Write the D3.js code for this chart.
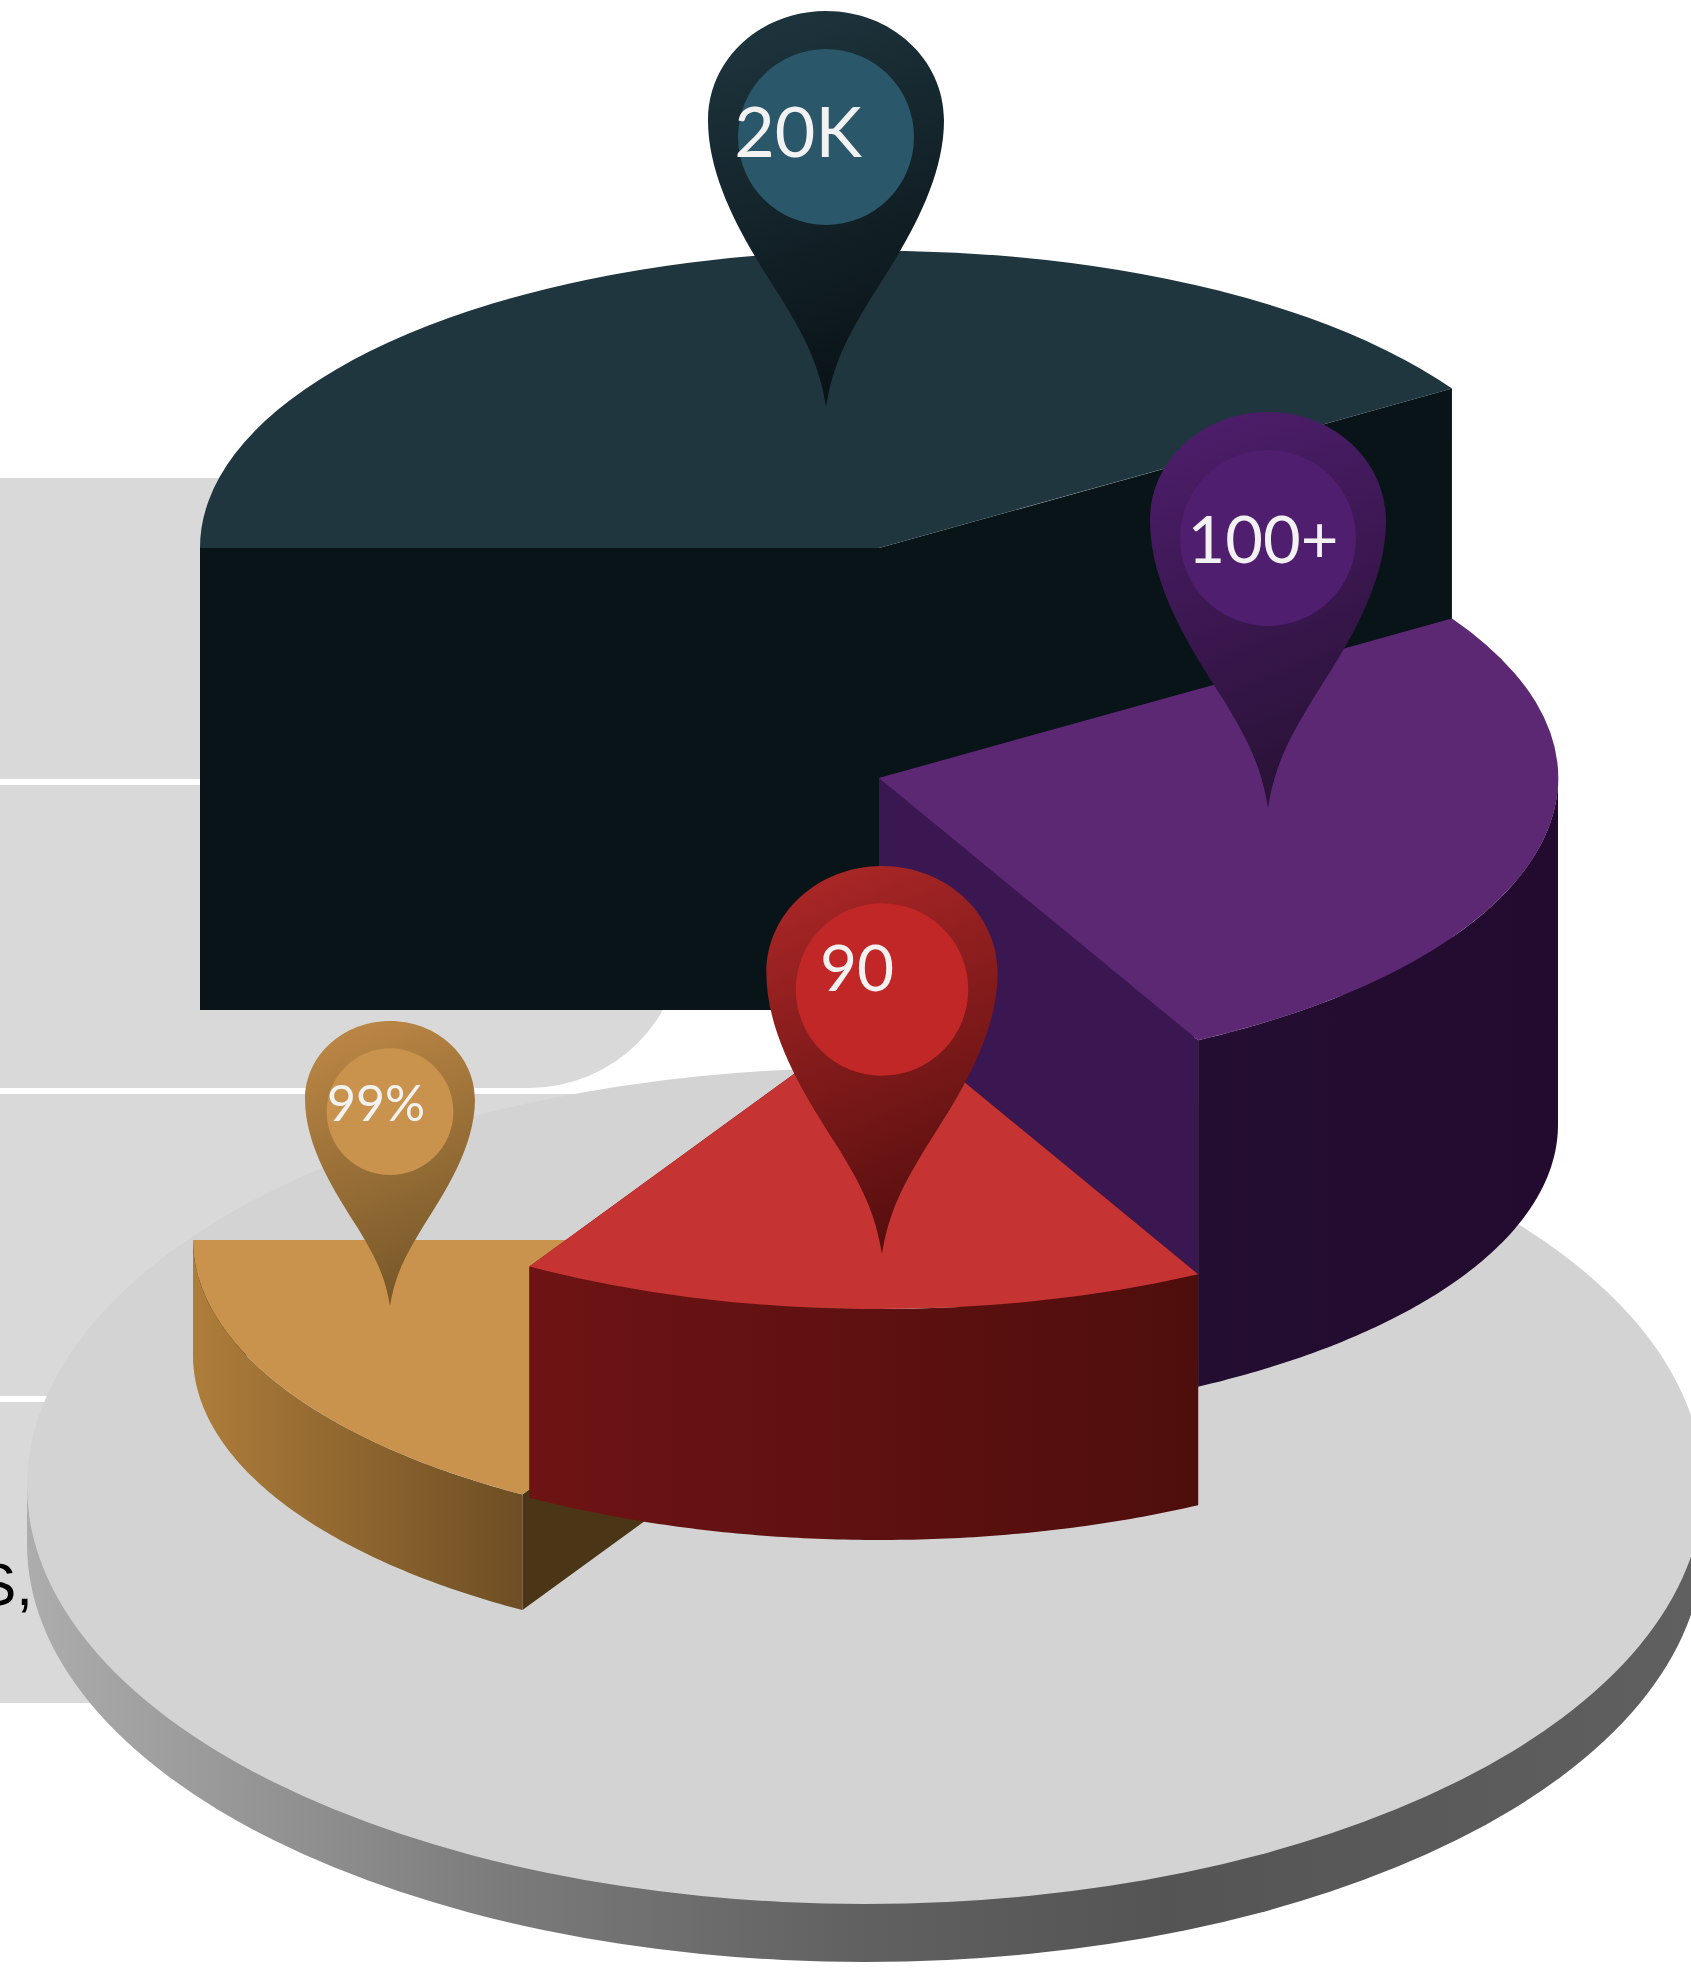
<!DOCTYPE html>
<html>
<head>
<meta charset="utf-8">
<script src="https://cdn.jsdelivr.net/npm/d3@7"></script>
<style>
  html, body { margin: 0; padding: 0; background: #fff; }
  svg { display: block; }
</style>
</head>
<body>
<div id="chart"></div>
<script>
// values
const labels = ["20K", "100+", "90", "99%"];
const shares = [147.5, 94.4, 59, 59];
const levels = [4, 3, 2, 1];

const topColors = ["#1f363f", "#5d2873", "#c53332", "#c9934d"];
const radialColors = [["#091418", "#091418"], ["#3a1750", "#3a1750"], ["#5e1010", "#5e1010"], ["#4b3517", "#4b3517"]];
const outerColors = [["#091418", "#091418"], ["#230d30", "#220b2e"], ["#6e1314", "#4e0e0c"], ["#ae7d3a", "#6e4e24"]];
const pinColors = [["#1f363f", "#0a1418"], ["#4f1e6e", "#2a1238"], ["#b02828", "#5a0f0f"], ["#c08a47", "#7a5a2a"]];
const innerColors = ["#2a5769", "#4f1e6e", "#c12727", "#c9934d"];

const width = 1691, height = 1974;
const rx = 679, ry = 297;
const sliceDx = [0, 0, 0, -7];
const pinLayout = [
  { x: 826, top: 11, s: 1, tx: 798, ty: 157, fs: 70 },
  { x: 1268, top: 412, s: 1, tx: 1263, ty: 563, fs: 65 },
  { x: 882, top: 866, s: 0.98, tx: 857, ty: 991, fs: 64 },
  { x: 390, top: 1021, s: 0.72, tx: 376, ty: 1121, fs: 50 }
];

const svg = d3.select("#chart").append("svg")
  .attr("width", width)
  .attr("height", height)
  .attr("viewBox", `0 0 ${width} ${height}`);
const defs = svg.append("defs");

function addGradient(id, stops, x2, y2) {
  const g = defs.append("linearGradient").attr("id", id)
    .attr("x1", 0).attr("y1", 0).attr("x2", x2).attr("y2", y2);
  stops.forEach((c, i) => {
    g.append("stop").attr("offset", c[1] ?? i / (stops.length - 1)).attr("stop-color", c[0]);
  });
}

// grey panel behind the chart
const panel = svg.append("g").attr("fill", "#d9d9d9");
panel.append("rect").attr("x", 0).attr("y", 478).attr("width", 700).attr("height", 301);
panel.append("path").attr("d", "M0,785H683V934A154,154 0 0 1 529,1088H0Z");
panel.append("rect").attr("x", 0).attr("y", 1094).attr("width", 700).attr("height", 302);
panel.append("rect").attr("x", 0).attr("y", 1402).attr("width", 700).attr("height", 301);
svg.append("text")
  .attr("x", 33).attr("y", 1605)
  .attr("text-anchor", "end")
  .attr("font-family", "Liberation Sans")
  .attr("font-size", 60)
  .attr("fill", "#000")
  .text("S,");

// base disc
const discX = 865, discY = 1486, discRx = 838, discRy = 418, discDepth = 58;
addGradient("discSide", [["#adadad", 0], ["#7a7a7a", 0.29], ["#606060", 0.5], ["#545454", 0.68], ["#606060", 1]], 1, 0);
svg.append("ellipse").attr("cx", discX).attr("cy", discY + discDepth).attr("rx", discRx).attr("ry", discRy).attr("fill", "url(#discSide)");
svg.append("rect").attr("x", discX - discRx).attr("y", discY).attr("width", discRx * 2).attr("height", discDepth).attr("fill", "url(#discSide)");
svg.append("ellipse").attr("cx", discX).attr("cy", discY).attr("rx", discRx).attr("ry", discRy).attr("fill", "#d3d3d3");

// pie slices, stepped down from back to front
const pie = d3.pie().sort(null).startAngle(-Math.PI / 2).endAngle(Math.PI * 1.5);
const arcs = pie(shares);
const topY = d3.scaleLinear().domain([4, 3, 2, 1]).range([548, 778, 1012, 1240]);
const wallH = d3.scaleLinear().domain([0, 4]).range([0, 462]);
const arc = d3.arc().innerRadius(0).outerRadius(1);
const line = d3.line();

function rim(cx, cy, a) {
  return [cx + rx * Math.sin(a), cy - ry * Math.cos(a)];
}

function drawSlice(i) {
  const d = arcs[i];
  const cx = 879 + sliceDx[i];
  const cy = topY(levels[i]);
  const h = wallH(levels[i]);
  const g = svg.append("g").attr("class", "slice");

  [d.startAngle, d.endAngle].forEach((a, k) => {
    const p = rim(cx, cy, a);
    g.append("path")
      .attr("d", line([[cx, cy], p, [p[0], p[1] + h], [cx, cy + h]]) + "Z")
      .attr("fill", radialColors[i][k]);
  });

  const a0 = Math.max(d.startAngle, Math.PI / 2);
  const a1 = Math.min(d.endAngle, Math.PI * 1.5);
  if (a1 > a0) {
    const steps = d3.range(a0, a1, 0.01).concat([a1]);
    const front = steps.map(a => rim(cx, cy, a));
    const back = front.slice().reverse().map(p => [p[0], p[1] + h]);
    addGradient("outer" + i, [[outerColors[i][0]], [outerColors[i][1]]], 1, 0);
    g.append("path")
      .attr("d", line(front.concat(back)) + "Z")
      .attr("fill", `url(#outer${i})`);
  }

  // unit arc squeezed onto the ellipse
  g.append("path")
    .attr("d", arc(d))
    .attr("transform", `translate(${cx},${cy}) scale(${rx},${ry})`)
    .attr("fill", topColors[i]);
}

[0, 1, 3, 2].forEach(drawSlice);

// map pins
const pinPath = "M0,396C-7,352 -22,325 -45,287C-75,240 -118,175 -118,109C-118,48 -65,0 0,0" +
  "C65,0 118,48 118,109C118,175 75,240 45,287C22,325 7,352 0,396Z";

labels.forEach((label, i) => {
  const p = pinLayout[i];
  addGradient("pin" + i, [[pinColors[i][0]], [pinColors[i][1]]], 0.25, 1);
  const g = svg.append("g").attr("transform", `translate(${p.x},${p.top}) scale(${p.s})`);
  g.append("path").attr("d", pinPath).attr("fill", `url(#pin${i})`);
  g.append("circle").attr("cx", 0).attr("cy", 126).attr("r", 88).attr("fill", innerColors[i]);
  svg.append("text")
    .attr("x", p.tx).attr("y", p.ty)
    .attr("text-anchor", "middle")
    .attr("font-family", "Lato")
    .attr("font-size", p.fs)
    .attr("fill", "#f2f2f2")
    .text(label);
});
</script>
</body>
</html>
